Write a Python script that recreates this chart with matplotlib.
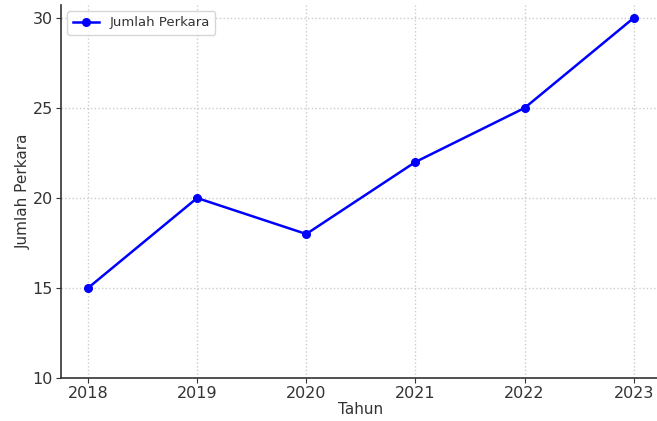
import matplotlib.pyplot as plt

# data
tahun = [2018, 2019, 2020, 2021, 2022, 2023]
jumlah_perkara = [15, 20, 18, 22, 25, 30]

fig = plt.figure(figsize=(6.57, 4.21), dpi=100)
ax = fig.add_axes([0.0924, 0.1021, 0.9136, 0.8872])

ax.plot(tahun, jumlah_perkara, marker='o', color='blue', linewidth=1.8,
        markersize=5.5, label='Jumlah Perkara')

ax.set_ylim(10, 30.75)
ax.set_xlim(2017.75, 2023.25)
ax.set_xticks(tahun)
ax.set_yticks([10, 15, 20, 25, 30])

ax.set_xlabel('Tahun', fontsize=11, color='#333333', labelpad=1)
ax.set_ylabel('Jumlah Perkara', fontsize=11, color='#333333', labelpad=1)
ax.tick_params(labelsize=11.5, colors='#333333', length=3.5, pad=2)
ax.grid(True, linestyle=':', color='#cccccc', linewidth=1)

for s in ['top', 'right']:
    ax.spines[s].set_visible(False)
for s in ['left', 'bottom']:
    ax.spines[s].set_color('#333333')
    ax.spines[s].set_linewidth(1.2)

ax.legend(loc='upper left', fontsize=9.5, labelcolor='#333333')

fig.savefig('out.png', dpi=100)
